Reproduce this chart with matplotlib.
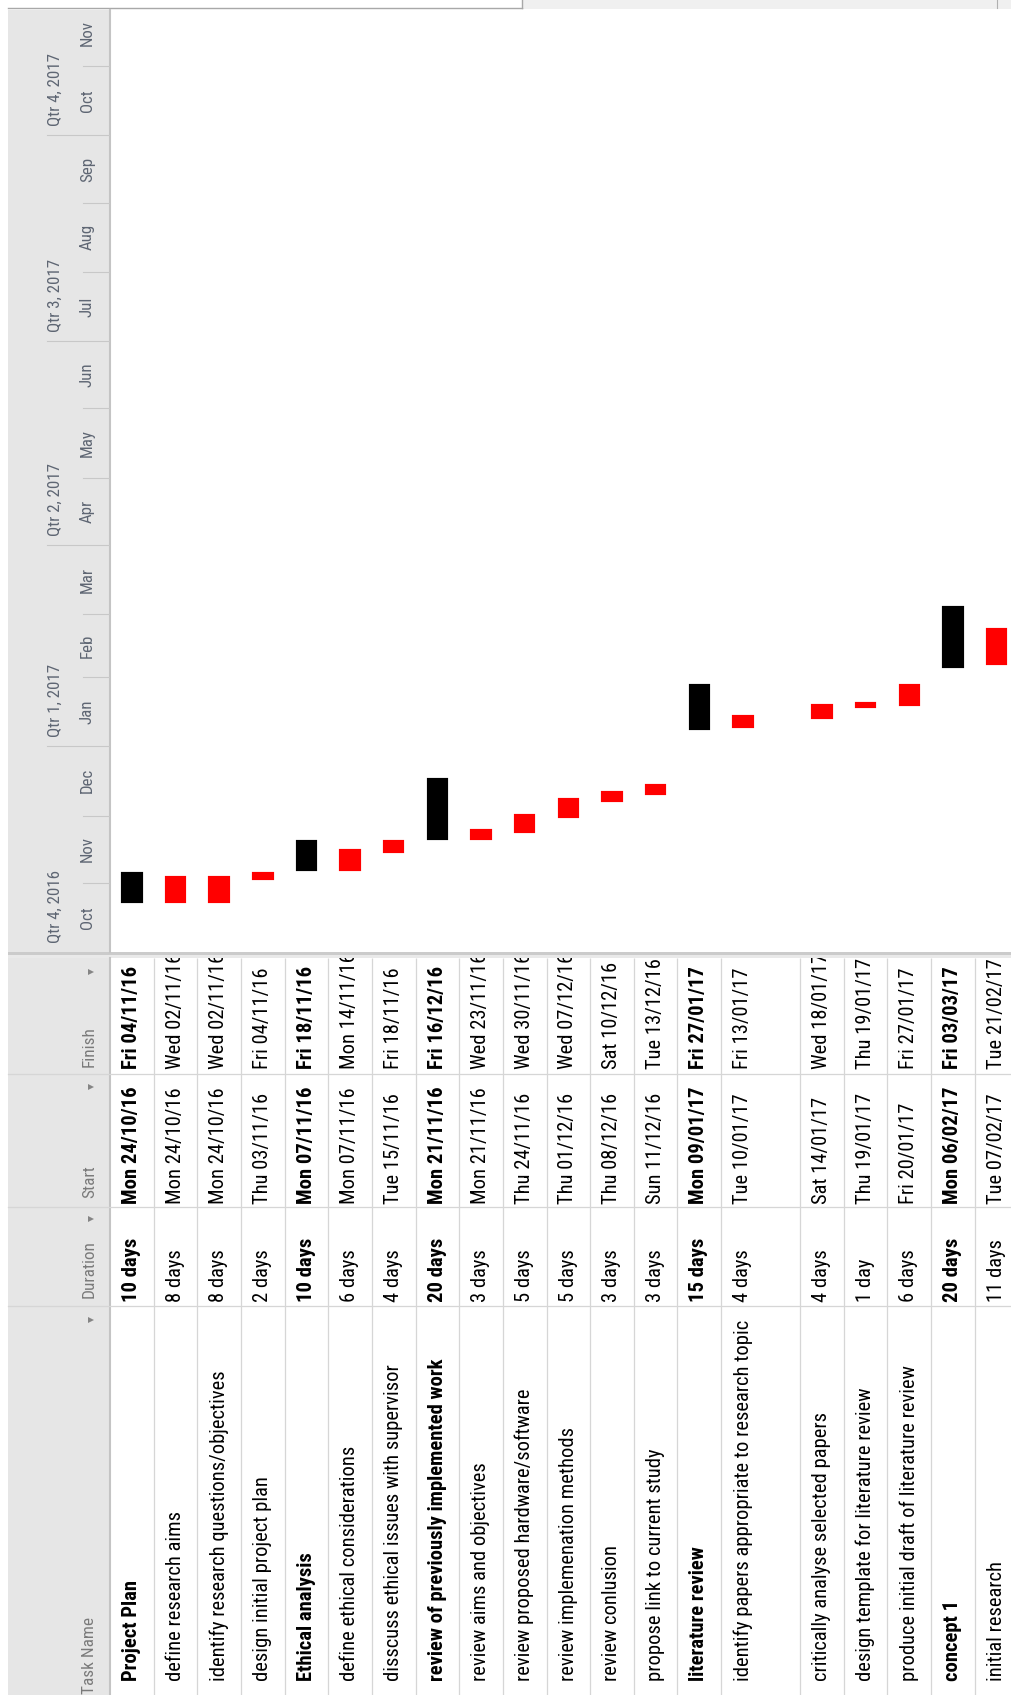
import datetime

import numpy as np
import matplotlib.pyplot as plt
import matplotlib.dates as mdates
from matplotlib import font_manager
from matplotlib.patches import Rectangle


tasks = [
    'Project Plan', 'define research aims', 'identify research questions/objectives',
    'design initial project plan', 'Ethical analysis', 'define ethical considerations',
    'disscuss ethical issues with supervisor', 'review of previously implemented work',
    'review aims and objectives', 'review proposed hardware/software', 'review implemenation methods',
    'review conlusion', 'propose link to current study', 'literature review',
    'identify papers appropriate to research topic', 'critically analyse selected papers',
    'design template for literature review', 'produce initial draft of literature review',
    'concept 1', 'initial research'
]
durations = ['10 days', '8 days', '8 days', '2 days', '10 days', '6 days', '4 days', '20 days',
             '3 days', '5 days', '5 days', '3 days', '3 days', '15 days', '4 days', '4 days',
             '1 day', '6 days', '20 days', '11 days']
starts = ['Mon 24/10/16', 'Mon 24/10/16', 'Mon 24/10/16', 'Thu 03/11/16', 'Mon 07/11/16',
          'Mon 07/11/16', 'Tue 15/11/16', 'Mon 21/11/16', 'Mon 21/11/16', 'Thu 24/11/16',
          'Thu 01/12/16', 'Thu 08/12/16', 'Sun 11/12/16', 'Mon 09/01/17', 'Tue 10/01/17',
          'Sat 14/01/17', 'Thu 19/01/17', 'Fri 20/01/17', 'Mon 06/02/17', 'Tue 07/02/17']
finishes = ['Fri 04/11/16', 'Wed 02/11/16', 'Wed 02/11/16', 'Fri 04/11/16', 'Fri 18/11/16',
            'Mon 14/11/16', 'Fri 18/11/16', 'Fri 16/12/16', 'Wed 23/11/16', 'Wed 30/11/16',
            'Wed 07/12/16', 'Sat 10/12/16', 'Tue 13/12/16', 'Fri 27/01/17', 'Fri 13/01/17',
            'Wed 18/01/17', 'Thu 19/01/17', 'Fri 27/01/17', 'Fri 03/03/17', 'Tue 21/02/17']
summary = [True, False, False, False, True, False, False, True, False, False,
           False, False, False, True, False, False, False, False, True, False]

# page geometry (pixels)
W, H = 1011, 1695
ROW = 43.65          # one table row
PX_PER_DAY = 2.237
row_units = [1.0] * len(tasks)
row_units[14] = 1.81  # wrapped row is taller

GRID = '#d6d6d6'
HEAD_BG = '#e6e6e6'
HEAD_TXT = '#7a7a7a'
SCALE_TXT = '#5e6673'

# narrowest UI font we can find
ttf = font_manager.fontManager.ttflist
names = {f.name for f in ttf}
for cand in ['Liberation Sans Narrow', 'Roboto Condensed', 'Open Sans Condensed']:
    if cand in names:
        plt.rcParams['font.family'] = [cand, 'DejaVu Sans']
        break
else:
    if any(f.name == 'DejaVu Sans' and 'condensed' in str(f.stretch) for f in ttf):
        plt.rcParams['font.family'] = ['DejaVu Sans']
        plt.rcParams['font.stretch'] = 'condensed'
    elif 'Roboto' in names:
        plt.rcParams['font.family'] = ['Roboto', 'DejaVu Sans']
    else:
        plt.rcParams['font.family'] = ['DejaVu Sans']


def parse(s):
    return datetime.datetime.strptime(s[4:], '%d/%m/%y')


fig = plt.figure(figsize=(W / 100, H / 100), dpi=100)
renderer = fig.canvas.get_renderer()


def fit(text, length_px, weight='normal'):
    t = fig.text(0, 0, text, fontsize=10, fontweight=weight)
    w = t.get_window_extent(renderer).width
    t.remove()
    return 10 * length_px / w


fs_reg = np.mean([fit('define research aims', 172), fit('Thu 03/11/16', 107),
                  fit('disscuss ethical issues with supervisor', 313),
                  fit('identify papers appropriate to research topic', 362)])
fs_bold = np.mean([fit('review of previously implemented work', 332, 'bold'),
                   fit('Mon 24/10/16', 115, 'bold')])
fs_head = np.mean([fit('Finish', 41), fit('Start', 32)])
fs_scale = np.mean([fit('Qtr 4, 2016', 72), fit('Nov', 26)])


def px_axes(x0, y0, x1, y1, **kw):
    return fig.add_axes([x0 / W, 1 - y1 / H, (x1 - x0) / W, (y1 - y0) / H], **kw)


# chrome: header column, splitter, top strip
bg = px_axes(0, 0, W, H)
bg.set_xlim(0, W)
bg.set_ylim(H, 0)
bg.axis('off')
bg.add_patch(Rectangle((522, 0), W - 522, 9, color='#f0f0f0', lw=0))
bg.plot([8, 522], [7.5, 7.5], color='#a8a8a8', lw=1)
bg.plot([522, 522], [0, 8], color='#a8a8a8', lw=1)
bg.plot([997, 997], [0, 8], color='#b0b0b0', lw=0.8)
bg.add_patch(Rectangle((8, 10), 101, H - 10, color=HEAD_BG, lw=0))
bg.add_patch(Rectangle((8, 951.5), W - 8, 3.5, color='#cbcbcb', lw=0))
bg.add_patch(Rectangle((8, 955), W - 8, 3, color='#e9e9e9', lw=0))
bg.plot([109.5, 109.5], [10, 951.5], color='#c4c4c4', lw=1.5)
bg.plot([109.5, 109.5], [958, H], color='#c4c4c4', lw=1.5)

fields = [('Finish', 958, 1074, 1067, 972), ('Start', 1074, 1207, 1198, 1087),
          ('Duration', 1207, 1306, 1298, 1219), ('Task Name', 1306, H + 10, 1694, 1320)]
for label, top, bottom, text_y, arrow_y in fields:
    if bottom < H:
        bg.plot([8, W], [bottom, bottom], color=GRID, lw=0.9)
    bg.text(97, text_y, label, rotation=90, ha='right', va='bottom',
            fontsize=fs_head, color=HEAD_TXT)
    bg.plot(91, arrow_y, ls='none', marker='>', ms=5, color='#858585', mew=0)

# gantt area, dates run upward
y0 = mdates.date2num(datetime.datetime(2016, 10, 1))
gantt = px_axes(110, 10, W, 952)
gantt.set_xlim(0, (W - 110) / ROW)
gantt.set_ylim(y0, y0 + 942 / PX_PER_DAY)
gantt.axis('off')

lefts = [sum(row_units[:i]) for i in range(len(tasks))]
for i in range(len(tasks)):
    s, f = parse(starts[i]), parse(finishes[i])
    c = 'black' if summary[i] else '#ff0000'
    gantt.bar(lefts[i] + 0.5, (f - s).days + 1, width=0.40, bottom=mdates.date2num(s),
              color=c, edgecolor=c, linewidth=3.0, joinstyle='miter')

# timescale: quarters and months
ts = px_axes(8, 10, 110, 952, sharey=gantt)
ts.set_xlim(8, 110)
ts.axis('off')
months = []
yr, mo = 2016, 10
while (yr, mo) <= (2017, 12):
    months.append(datetime.datetime(yr, mo, 1))
    yr, mo = (yr + 1, 1) if mo == 12 else (yr, mo + 1)
for m, nxt in zip(months[:-1], months[1:]):
    if m.month in (1, 4, 7, 10):
        x_from = 47
        ts.text(55.5, mdates.date2num(m) + 9 / PX_PER_DAY,
                'Qtr %d, %d' % ((m.month - 1) // 3 + 1, m.year),
                rotation=90, ha='center', va='bottom', fontsize=fs_scale, color=SCALE_TXT)
    else:
        x_from = 83
    if m.month != 10 or m.year != 2016:
        ts.plot([x_from, 110], [mdates.date2num(m)] * 2, color='#c8c8c8', lw=0.8)
    mid = mdates.date2num(m) + (nxt - m).days / 2
    ts.text(87.5, mid, m.strftime('%b'), rotation=90, ha='center', va='center',
            fontsize=fs_scale, color=SCALE_TXT, clip_on=True)

# task table
tbl = px_axes(110, 958, W, H, sharex=gantt)
tbl.set_ylim(H, 958)
tbl.axis('off')
bounds = lefts[1:] + [lefts[-1] + row_units[-1]]
tbl.vlines(bounds, 958, H, color=GRID, lw=0.9)

pad = 12 / ROW
for i in range(len(tasks)):
    w = 'bold' if summary[i] else 'normal'
    size = fs_bold if summary[i] else fs_reg
    for txt, y in [(finishes[i], 1069), (starts[i], 1203.5), (durations[i], 1302), (tasks[i], 1681)]:
        tbl.text(lefts[i] + pad, y, txt, rotation=90, ha='left', va='bottom',
                 fontsize=size, fontweight=w, color='black', clip_on=True)

fig.savefig('out.png', dpi=100, facecolor='white')
